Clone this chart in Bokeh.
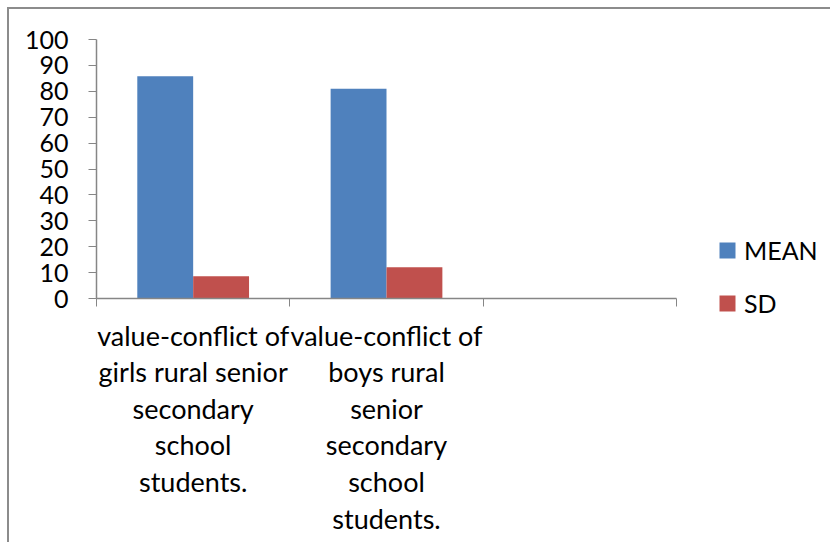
import numpy as np
from bokeh.plotting import figure
from bokeh.models import (ColumnDataSource, Range1d, FixedTicker, Legend, LegendItem)
from bokeh.transform import dodge
from bokeh.embed import file_html
from bokeh.resources import INLINE

# ---- data ----
categories = [
    "value-conflict of\ngirls rural senior\nsecondary\nschool\nstudents.",
    "value-conflict of\nboys rural\nsenior\nsecondary\nschool\nstudents.",
    "",
]
mean_values = [85.8, 81.0]
sd_values = [8.6, 12.1]
y_ticks = [0, 10, 20, 30, 40, 50, 60, 70, 80, 90, 100]
series_names = ["MEAN", "SD"]

FONT = "Lato"
BLUE = "#4F81BD"
RED = "#C0504D"
AXIS = "#868686"

n = len(categories)
src = ColumnDataSource(dict(
    x=list(np.arange(len(mean_values)) + 0.5),
    mean=mean_values,
    sd=sd_values,
))

# canvas geometry (pixels inside the canvas)
W, H = 823, 535
PX_L, PX_R = 87, 667      # x = 0 and x = n
PY_B, PY_T = 289, 30      # y = 0 and y = 100
sx = (PX_R - PX_L) / n
sy = (PY_B - PY_T) / 100.0
x_range = Range1d(-PX_L / sx, n + (W - PX_R) / sx)
y_range = Range1d(-(H - PY_B) / sy, 100 + PY_T / sy)

p = figure(width=W, height=H, output_backend="svg", toolbar_location=None,
           x_range=x_range, y_range=y_range, min_border=0,
           min_border_left=0, min_border_right=0,
           min_border_top=0, min_border_bottom=0)
p.styles = {"margin-left": "7px", "margin-top": "7px",
            "border-left": "2px solid #8c8c8c", "border-top": "2px solid #8c8c8c"}
p.outline_line_color = None
p.xgrid.visible = False
p.ygrid.visible = False

bw = 0.289
r_mean = p.vbar(x=dodge("x", -bw / 2, range=p.x_range), top="mean", width=bw,
                bottom=0, source=src, fill_color=BLUE, line_color=None)
r_sd = p.vbar(x=dodge("x", bw / 2, range=p.x_range), top="sd", width=bw,
              bottom=0, source=src, fill_color=RED, line_color=None)

# x axis: labels at category centres, tick marks at boundaries (minor ticks)
centres = [i + 0.5 for i in range(n)]
xa = p.xaxis[0]
xa.fixed_location = 0
xa.bounds = (0, n)
xa.ticker = FixedTicker(ticks=centres, minor_ticks=list(range(n + 1)))
xa.major_label_overrides = {c: lab for c, lab in zip(centres, categories)}
xa.major_tick_line_color = None
xa.minor_tick_line_color = AXIS
xa.minor_tick_out = 8
xa.minor_tick_in = 0
xa.axis_line_color = AXIS
xa.axis_line_width = 1.5
xa.major_label_text_font = FONT
xa.major_label_text_font_size = "27px"
xa.major_label_text_color = "black"
xa.major_label_text_line_height = 1.11
xa.major_label_standoff = 12

ya = p.yaxis[0]
ya.fixed_location = 0
ya.bounds = (0, 100)
ya.ticker = FixedTicker(ticks=y_ticks)
ya.minor_tick_line_color = None
ya.major_tick_line_color = AXIS
ya.major_tick_out = 8
ya.major_tick_in = 0
ya.axis_line_color = AXIS
ya.axis_line_width = 1.5
ya.major_label_text_font = FONT
ya.major_label_text_font_size = "25px"
ya.major_label_text_color = "black"
ya.major_label_standoff = 20

legend = Legend(items=[LegendItem(label=series_names[0], renderers=[r_mean]),
                       LegendItem(label=series_names[1], renderers=[r_sd])],
                location=(708, 226))
legend.padding = 0
legend.margin = 0
legend.border_line_color = None
legend.background_fill_alpha = 0
legend.glyph_width = 20
legend.glyph_height = 20
legend.label_height = 16
legend.spacing = 23
legend.label_standoff = 7
legend.label_text_font = FONT
legend.label_text_font_size = "25px"
legend.label_text_color = "black"
p.add_layout(legend, "center")

open("out.html", "w").write(file_html(p, INLINE))
